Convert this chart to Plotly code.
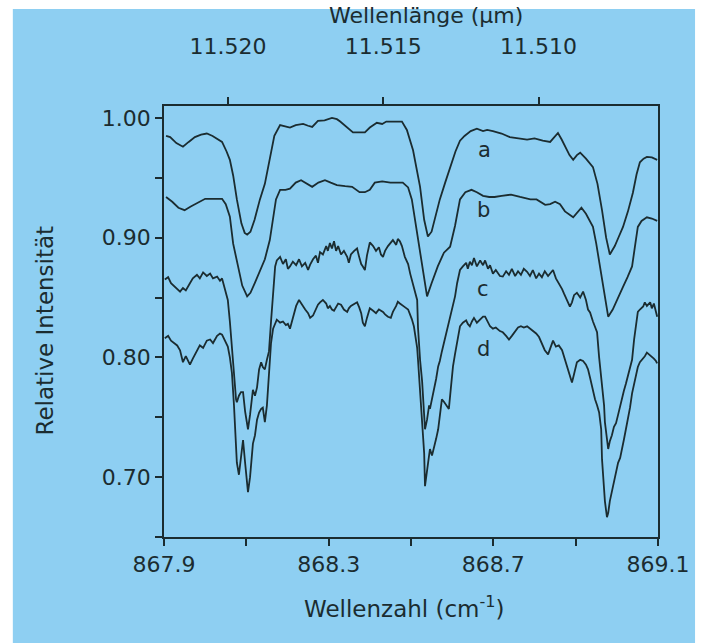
import plotly.graph_objects as go

# ---------------- data ----------------
wn_a = [867.905, 867.915, 867.930, 867.946, 867.960, 867.975, 867.990, 868.004, 868.018, 868.030,
        868.041, 868.052, 868.060, 868.068, 868.077, 868.088, 868.096, 868.102, 868.110, 868.120,
        868.133, 868.145, 868.157, 868.168, 868.182, 868.195, 868.206, 868.220, 868.238, 868.250,
        868.260, 868.274, 868.290, 868.308, 868.320, 868.328, 868.345, 868.359, 868.375, 868.388,
        868.400, 868.417, 868.430, 868.440, 868.478, 868.490, 868.505, 868.515, 868.522, 868.532,
        868.541, 868.550, 868.560, 868.570, 868.583, 868.595, 868.608, 868.619, 868.630, 868.645,
        868.660, 868.675, 868.685, 868.699, 868.720, 868.740, 868.760, 868.782, 868.800, 868.820,
        868.838, 868.848, 868.857, 868.866, 868.874, 868.885, 868.894, 868.903, 868.911, 868.925,
        868.942, 868.953, 868.964, 868.974, 868.983, 868.995, 869.005, 869.015, 869.027, 869.039,
        869.048, 869.056, 869.065, 869.073, 869.085, 869.098]
int_a = [0.985, 0.984, 0.979, 0.976, 0.980, 0.984, 0.986, 0.987, 0.985, 0.982,
         0.980, 0.972, 0.965, 0.952, 0.932, 0.912, 0.904, 0.9025, 0.905, 0.915,
         0.932, 0.945, 0.965, 0.985, 0.994, 0.993, 0.992, 0.994, 0.995, 0.9935,
         0.9925, 0.9975, 0.998, 1.000, 0.999, 0.997, 0.992, 0.988, 0.988, 0.988,
         0.992, 0.996, 0.995, 0.997, 0.997, 0.990, 0.973, 0.955, 0.9425, 0.915,
         0.901, 0.905, 0.918, 0.932, 0.946, 0.959, 0.972, 0.981, 0.985, 0.989,
         0.991, 0.989, 0.990, 0.989, 0.987, 0.984, 0.983, 0.982, 0.983, 0.981,
         0.980, 0.984, 0.9875, 0.982, 0.976, 0.969, 0.965, 0.969, 0.971, 0.966,
         0.959, 0.945, 0.923, 0.900, 0.886, 0.893, 0.901, 0.909, 0.922, 0.9375,
         0.953, 0.963, 0.966, 0.9675, 0.967, 0.965]

wn_b = [867.905, 867.920, 867.935, 867.950, 867.965, 867.985, 868.000, 868.020, 868.041, 868.050,
        868.060, 868.068, 868.079, 868.090, 868.102, 868.110, 868.121, 868.133, 868.145, 868.157,
        868.165, 868.172, 868.182, 868.195, 868.206, 868.220, 868.233, 868.248, 868.260, 868.275,
        868.291, 868.305, 868.320, 868.340, 868.357, 868.375, 868.388, 868.400, 868.412, 868.430,
        868.450, 868.480, 868.493, 868.502, 868.512, 868.520, 868.530, 868.539, 868.550, 868.565,
        868.580, 868.595, 868.607, 868.619, 868.632, 868.647, 868.660, 868.675, 868.690, 868.703,
        868.720, 868.743, 868.765, 868.790, 868.805, 868.826, 868.838, 868.850, 868.862, 868.874,
        868.894, 868.904, 868.914, 868.925, 868.942, 868.950, 868.959, 868.970, 868.979, 868.990,
        869.005, 869.015, 869.026, 869.037, 869.045, 869.051, 869.060, 869.073, 869.085, 869.098]
int_b = [0.934, 0.930, 0.925, 0.923, 0.926, 0.930, 0.9325, 0.9325, 0.9325, 0.928,
         0.9175, 0.895, 0.876, 0.860, 0.851, 0.854, 0.8625, 0.873, 0.882, 0.898,
         0.915, 0.932, 0.940, 0.940, 0.941, 0.946, 0.948, 0.945, 0.9425, 0.946,
         0.948, 0.946, 0.944, 0.943, 0.9425, 0.938, 0.938, 0.940, 0.946, 0.947,
         0.946, 0.946, 0.942, 0.932, 0.910, 0.890, 0.868, 0.851, 0.862, 0.876,
         0.8875, 0.8925, 0.910, 0.932, 0.938, 0.940, 0.938, 0.935, 0.934, 0.934,
         0.935, 0.936, 0.934, 0.932, 0.932, 0.9275, 0.928, 0.930, 0.928, 0.922,
         0.917, 0.921, 0.925, 0.920, 0.909, 0.895, 0.876, 0.850, 0.834, 0.840,
         0.852, 0.859, 0.867, 0.876, 0.895, 0.909, 0.914, 0.917, 0.916, 0.914]

wn_cd = [867.902, 867.910, 867.917, 867.924, 867.932, 867.939, 867.946, 867.953, 867.963, 867.970,
         867.980, 867.987, 867.995, 868.004, 868.012, 868.019, 868.029, 868.036, 868.041, 868.048,
         868.055, 868.060, 868.065, 868.070, 868.075, 868.077, 868.082, 868.087, 868.092, 868.097,
         868.102, 868.104, 868.109, 868.114, 868.116, 868.121, 868.126, 868.131, 868.136, 868.140,
         868.145, 868.150, 868.155, 868.160, 868.165, 868.170, 868.174, 868.182, 868.189, 868.196,
         868.201, 868.206, 868.213, 868.221, 868.228, 868.235, 868.243, 868.250, 868.255, 868.262,
         868.269, 868.274, 868.279, 868.286, 868.294, 868.298, 868.303, 868.308, 868.313, 868.318,
         868.323, 868.330, 868.337, 868.345, 868.349, 868.354, 868.362, 868.369, 868.374, 868.379,
         868.383, 868.388, 868.393, 868.400, 868.408, 868.415, 868.422, 868.427, 868.432, 868.437,
         868.444, 868.451, 868.456, 868.464, 868.468, 868.473, 868.478, 868.485, 868.493, 868.498,
         868.502, 868.507, 868.512, 868.515, 868.517, 868.519, 868.522, 868.527, 868.529, 868.532,
         868.534, 868.539, 868.544, 868.546, 868.551, 868.556, 868.561, 868.566, 868.570, 868.575,
         868.580, 868.587, 868.592, 868.597, 868.602, 868.607, 868.612, 868.619, 868.626, 868.634,
         868.638, 868.643, 868.648, 868.653, 868.660, 868.668, 868.675, 868.680, 868.687, 868.692,
         868.699, 868.706, 868.716, 868.723, 868.731, 868.738, 868.745, 868.753, 868.760, 868.767,
         868.774, 868.782, 868.789, 868.796, 868.804, 868.811, 868.818, 868.825, 868.833, 868.840,
         868.845, 868.852, 868.859, 868.867, 868.872, 868.879, 868.886, 868.891, 868.896, 868.903,
         868.911, 868.918, 868.925, 868.930, 868.935, 868.942, 868.947, 868.952, 868.957, 868.962,
         868.964, 868.969, 868.971, 868.976, 868.979, 868.983, 868.988, 868.993, 868.998, 869.003,
         869.008, 869.013, 869.017, 869.022, 869.027, 869.032, 869.037, 869.042, 869.047, 869.051,
         869.056, 869.064, 869.068, 869.073, 869.081, 869.085, 869.090, 869.095, 869.098]
int_c = [0.865, 0.867, 0.862, 0.860, 0.857, 0.855, 0.858, 0.856, 0.862, 0.866,
         0.869, 0.866, 0.871, 0.868, 0.870, 0.866, 0.8675, 0.864, 0.866, 0.857,
         0.848, 0.830, 0.807, 0.785, 0.765, 0.7625, 0.768, 0.771, 0.771, 0.755,
         0.745, 0.740, 0.752, 0.765, 0.773, 0.768, 0.775, 0.790, 0.796, 0.792,
         0.790, 0.798, 0.805, 0.830, 0.855, 0.876, 0.881, 0.884, 0.878, 0.882,
         0.874, 0.876, 0.880, 0.877, 0.882, 0.876, 0.879, 0.873, 0.8775, 0.882,
         0.885, 0.879, 0.888, 0.886, 0.893, 0.889, 0.8955, 0.891, 0.897, 0.889,
         0.893, 0.886, 0.889, 0.884, 0.879, 0.886, 0.889, 0.891, 0.884, 0.878,
         0.876, 0.873, 0.885, 0.896, 0.893, 0.889, 0.892, 0.886, 0.884, 0.889,
         0.893, 0.896, 0.898, 0.894, 0.899, 0.897, 0.893, 0.884, 0.878, 0.870,
         0.865, 0.858, 0.851, 0.848, 0.825, 0.810, 0.798, 0.780, 0.765, 0.752,
         0.740, 0.748, 0.760, 0.757, 0.765, 0.772, 0.782, 0.7925, 0.797, 0.805,
         0.812, 0.823, 0.828, 0.836, 0.8425, 0.851, 0.862, 0.873, 0.876, 0.879,
         0.874, 0.880, 0.877, 0.883, 0.876, 0.881, 0.877, 0.881, 0.874, 0.877,
         0.870, 0.873, 0.868, 0.8675, 0.872, 0.869, 0.874, 0.868, 0.872, 0.869,
         0.874, 0.8715, 0.868, 0.873, 0.866, 0.870, 0.867, 0.872, 0.868, 0.871,
         0.873, 0.866, 0.862, 0.857, 0.853, 0.848, 0.8425, 0.846, 0.852, 0.854,
         0.850, 0.855, 0.848, 0.840, 0.8375, 0.830, 0.826, 0.821, 0.800, 0.785,
         0.779, 0.760, 0.746, 0.730, 0.7235, 0.730, 0.735, 0.742, 0.745, 0.752,
         0.760, 0.765, 0.772, 0.778, 0.785, 0.790, 0.798, 0.815, 0.830, 0.838,
         0.840, 0.8425, 0.846, 0.843, 0.846, 0.841, 0.845, 0.838, 0.834]
int_d = [0.816, 0.818, 0.814, 0.812, 0.810, 0.806, 0.796, 0.801, 0.794, 0.799,
         0.806, 0.810, 0.808, 0.814, 0.815, 0.812, 0.818, 0.820, 0.819, 0.814,
         0.809, 0.800, 0.787, 0.760, 0.728, 0.712, 0.702, 0.715, 0.731, 0.712,
         0.690, 0.6875, 0.700, 0.724, 0.728, 0.735, 0.748, 0.754, 0.757, 0.758,
         0.746, 0.760, 0.790, 0.812, 0.824, 0.828, 0.8315, 0.829, 0.830, 0.827,
         0.828, 0.824, 0.834, 0.843, 0.848, 0.844, 0.840, 0.837, 0.833, 0.835,
         0.840, 0.844, 0.846, 0.848, 0.845, 0.841, 0.843, 0.840, 0.839, 0.842,
         0.845, 0.844, 0.840, 0.838, 0.841, 0.843, 0.845, 0.846, 0.842, 0.837,
         0.829, 0.826, 0.833, 0.841, 0.839, 0.837, 0.840, 0.839, 0.838, 0.836,
         0.834, 0.833, 0.838, 0.843, 0.8465, 0.845, 0.844, 0.842, 0.840, 0.836,
         0.832, 0.826, 0.815, 0.808, 0.798, 0.788, 0.775, 0.751, 0.738, 0.720,
         0.6925, 0.705, 0.718, 0.7235, 0.718, 0.724, 0.732, 0.740, 0.752, 0.765,
         0.763, 0.759, 0.757, 0.775, 0.7925, 0.803, 0.812, 0.826, 0.829, 0.831,
         0.828, 0.826, 0.830, 0.833, 0.829, 0.832, 0.834, 0.834, 0.830, 0.826,
         0.824, 0.825, 0.822, 0.821, 0.818, 0.815, 0.818, 0.822, 0.825, 0.826,
         0.825, 0.826, 0.824, 0.822, 0.820, 0.817, 0.812, 0.806, 0.8025, 0.810,
         0.814, 0.809, 0.810, 0.806, 0.800, 0.792, 0.785, 0.779, 0.786, 0.796,
         0.798, 0.797, 0.794, 0.790, 0.783, 0.771, 0.765, 0.760, 0.754, 0.740,
         0.715, 0.690, 0.680, 0.6665, 0.670, 0.680, 0.688, 0.695, 0.704, 0.712,
         0.716, 0.726, 0.731, 0.740, 0.7485, 0.758, 0.770, 0.779, 0.788, 0.792,
         0.796, 0.799, 0.801, 0.804, 0.802, 0.801, 0.799, 0.797, 0.795]

curve_labels = ["a", "b", "c", "d"]
label_wn = [868.678, 868.675, 868.675, 868.675]
label_int = [0.973, 0.923, 0.857, 0.807]

x_ticks = [867.9, 868.3, 868.7, 869.1]
y_ticks = [0.70, 0.80, 0.90, 1.00]
wl_ticks = [11.520, 11.515, 11.510]

# ---------------- style ----------------
LINE = "#1b2c30"
BLUE = "#8ecff2"
FONT = "DejaVu Sans"

fig = go.Figure()
for xs, ys in [(wn_a, int_a), (wn_b, int_b), (wn_cd, int_c), (wn_cd, int_d)]:
    fig.add_trace(go.Scatter(x=xs, y=ys, mode="lines",
                             line=dict(color=LINE, width=1.8),
                             showlegend=False, hoverinfo="skip"))
# invisible trace to activate the top (wavelength) axis
fig.add_trace(go.Scatter(x=wn_a, y=int_a, mode="lines", xaxis="x2", yaxis="y",
                         line=dict(width=0), opacity=0,
                         showlegend=False, hoverinfo="skip"))

for lab, lx, ly in zip(curve_labels, label_wn, label_int):
    fig.add_annotation(x=lx, y=ly, text=lab, showarrow=False,
                       font=dict(family=FONT, size=21, color=LINE))

tick_style = dict(ticks="outside", tickcolor=LINE, ticklen=7, tickwidth=1.5,
                  showgrid=False, zeroline=False,
                  tickfont=dict(family=FONT, size=22, color=LINE))

fig.update_layout(
    width=702, height=643,
    margin=dict(l=164, r=44, t=106, b=106),
    paper_bgcolor="white",
    plot_bgcolor="rgba(0,0,0,0)",
    xaxis=dict(range=[867.9, 869.1], tickvals=x_ticks,
               ticktext=[f"{v:.1f}" for v in x_ticks],
               minor=dict(dtick=0.2, tick0=867.9, ticks="outside", ticklen=7,
                          tickcolor=LINE, tickwidth=1.5),
               showline=True, linecolor=LINE, linewidth=1.5, mirror=True,
               **tick_style),
    xaxis2=dict(range=[867.9, 869.1], overlaying="x", side="top", anchor="y",
                tickvals=[10000 / w for w in wl_ticks],
                ticktext=[f"{w:.3f}" for w in wl_ticks],
                showline=True, linecolor=LINE, linewidth=1.5,
                ticklabelstandoff=34,
                **tick_style),
    yaxis=dict(range=[0.65, 1.01], tickvals=y_ticks,
               ticktext=[f"{v:.2f}" for v in y_ticks],
               minor=dict(dtick=0.05, tick0=0.65, ticks="outside", ticklen=7,
                          tickcolor=LINE, tickwidth=1.5),
               showline=True, linecolor=LINE, linewidth=1.5, mirror=True,
               **tick_style),
    shapes=[dict(type="rect", xref="paper", yref="paper",
                 x0=-0.306, x1=1.075, y0=-0.26, y1=1.225,
                 fillcolor=BLUE, line=dict(width=0), layer="below")],
)

fig.add_annotation(xref="paper", yref="paper", x=0.487, y=-0.162,
                   xanchor="center", yanchor="middle",
                   text="Wellenzahl (cm<sup>-1</sup>)", showarrow=False,
                   font=dict(family=FONT, size=23, color=LINE))
fig.add_annotation(xref="paper", yref="paper", x=0.53, y=1.211,
                   xanchor="center", yanchor="middle",
                   text="Wellenlänge (μm)", showarrow=False,
                   font=dict(family=FONT, size=22, color=LINE))
fig.add_annotation(xref="paper", yref="paper", x=-0.24, y=0.48,
                   xanchor="center", yanchor="middle",
                   text="Relative Intensität", showarrow=False, textangle=-90,
                   font=dict(family=FONT, size=23, color=LINE))

fig.write_html("out.html")
